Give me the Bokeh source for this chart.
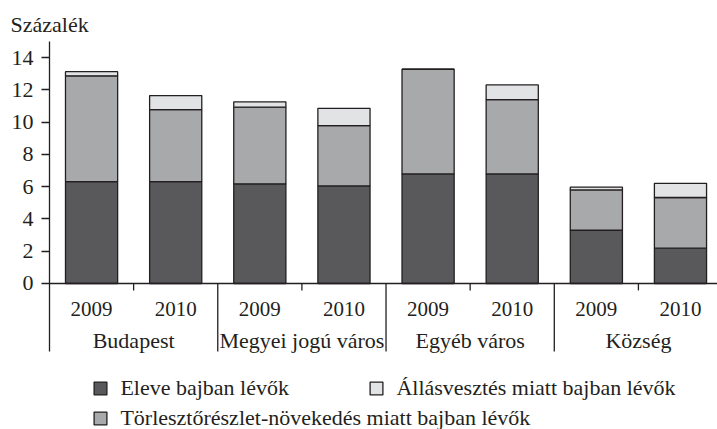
from bokeh.plotting import figure
from bokeh.models import ColumnDataSource, Range1d, FixedTicker, Span, Legend, LegendItem
from bokeh.core.properties import value
from bokeh.embed import file_html
from bokeh.resources import INLINE

# ---- data ----
groups = ["Budapest", "Megyei jogú város", "Egyéb város", "Község"]
years = ["2009", "2010"]
eleve = [6.32, 6.32, 6.18, 6.05, 6.79, 6.79, 3.30, 2.19]
torleszto = [6.55, 4.46, 4.75, 3.74, 6.49, 4.61, 2.50, 3.14]
allas = [0.26, 0.87, 0.33, 1.07, 0.00, 0.91, 0.17, 0.88]
y_ticks = [0, 2, 4, 6, 8, 10, 12, 14]
series_labels = ["Eleve bajban lévők",
                 "Törlesztőrészlet-növekedés miatt bajban lévők",
                 "Állásvesztés miatt bajban lévők"]
y_title = "Százalék"

# ---- styling ----
FONT = "Liberation Serif"
FS = "22px"
FS_YEAR = "21px"
INK = "#231f20"
colors = ["#59595b", "#a8a9ab", "#e2e3e5"]

n_years = len(years)
n_bars = len(groups) * n_years
x_pos = [i + 0.5 for i in range(n_bars)]
year_lab = [years[i % n_years] for i in range(n_bars)]
grp_x = [g * n_years + n_years / 2 for g in range(len(groups))]
sep_x = [g * n_years for g in range(1, len(groups) + 1)]
minor_x = [g * n_years + 1 for g in range(len(groups))]

src = ColumnDataSource(dict(x=x_pos, eleve=eleve, torleszto=torleszto, allas=allas))

W, H = 717, 429
p = figure(width=W, height=H, output_backend="svg", toolbar_location=None,
           x_range=Range1d(0, 7.94), y_range=Range1d(-9.05, 15),
           x_axis_location=None, min_border_left=49, min_border_right=0,
           min_border_bottom=0, min_border_top=41)
p.grid.visible = False
p.outline_line_color = None

rs = p.vbar_stack(["eleve", "torleszto", "allas"], x="x", width=0.62, source=src,
                  fill_color=colors, line_color=INK, line_width=1.3)

# y axis
ax = p.yaxis[0]
ax.ticker = FixedTicker(ticks=y_ticks)
ax.bounds = (-4.21, 15)
ax.major_tick_in = 0
ax.major_tick_out = 8
ax.minor_tick_line_color = None
ax.major_label_standoff = 8
ax.axis_line_color = INK
ax.axis_line_width = 1.3
ax.major_tick_line_color = INK
ax.major_tick_line_width = 1.3
ax.major_label_text_font = FONT
ax.major_label_text_font_size = FS
ax.major_label_text_color = INK

# baseline
p.add_layout(Span(location=0, dimension="width", line_color=INK, line_width=1.3))

# separators and minor ticks below baseline
p.segment(x0=sep_x, y0=[0] * len(sep_x), x1=sep_x, y1=[-4.21] * len(sep_x),
          line_color=INK, line_width=1.3)
p.segment(x0=minor_x, y0=[0] * len(minor_x), x1=minor_x, y1=[-0.43] * len(minor_x),
          line_color=INK, line_width=1.3)

# category labels
p.text(x=x_pos, y=[-1.61] * n_bars, text=year_lab, text_font=value(FONT),
       text_font_size=value(FS_YEAR), text_align="center", text_baseline="middle",
       text_color=INK)
p.text(x=grp_x, y=[-3.56] * len(groups), text=groups, text_font=value(FONT),
       text_font_size=value(FS), text_align="center", text_baseline="middle",
       text_color=INK)

# title
p.title.text = y_title
p.title.text_font = FONT
p.title.text_font_size = FS
p.title.text_font_style = "normal"
p.title.text_color = INK
p.title.align = "left"
p.title.offset = -39

# legends
def add_legend(r, label, loc):
    lg = Legend(items=[LegendItem(label=label, renderers=[r])], location=loc,
                orientation="horizontal", padding=0, margin=0, spacing=0,
                border_line_color=None, background_fill_alpha=0,
                glyph_width=16, glyph_height=16, label_standoff=12, label_height=20,
                label_text_font=FONT, label_text_font_size=FS,
                label_text_color=INK)
    p.add_layout(lg)

add_legend(rs[0], series_labels[0], (43.4, 27.8))
add_legend(rs[2], series_labels[2], (319.4, 27.8))
add_legend(rs[1], series_labels[1], (43.4, -2.2))

open("out.html", "w").write(file_html(p, INLINE))
